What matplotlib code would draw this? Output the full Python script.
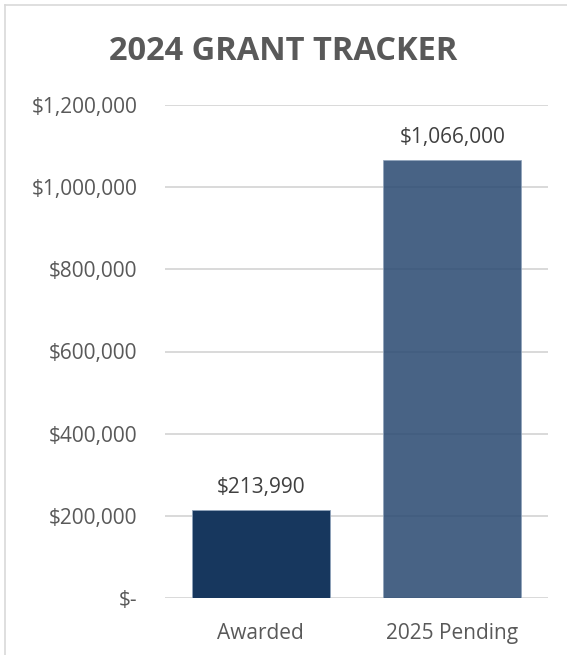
import matplotlib
matplotlib.use("Agg")
import matplotlib.pyplot as plt
from matplotlib.lines import Line2D

# ===================== DATOS =====================
categorias = ["Awarded", "2025 Pending"]
montos = [213990, 1066000]
colores = ["#17375E", "#2E4D74"]
alfas = [1.0, 0.88]
yticks = [0, 200000, 400000, 600000, 800000, 1000000, 1200000]


def fmt_dolar(v):
    return "$-" if v == 0 else f"${v:,.0f}"


plt.rcParams['font.family'] = ['Open Sans', 'DejaVu Sans']

W, H = 567, 655
fig = plt.figure(figsize=(W / 100, H / 100), dpi=100)
fig.patch.set_facecolor("white")

# area del grafico en pixeles: x 165..548, y 105..598
ax = fig.add_axes([165 / W, 1 - 598 / H, (548 - 165) / W, (598 - 105) / H])

x = range(len(categorias))
for i, (v, c, a) in enumerate(zip(montos, colores, alfas)):
    ax.bar(i, v, width=0.72, color=c, alpha=a, zorder=3, edgecolor="#8fa3bb", linewidth=0.6)
    ax.text(i, v + 30000, fmt_dolar(v), ha="center", va="bottom", fontsize=15, color="#404040")

ax.set_xlim(-0.5, 1.5)
ax.set_ylim(0, 1200000)
ax.set_yticks(yticks)
ax.set_yticklabels([fmt_dolar(v) for v in yticks], fontsize=15, color="#595959")
ax.set_xticks(list(x))
ax.set_xticklabels(categorias, fontsize=15, color="#595959")
ax.tick_params(length=0, axis="y", pad=20)
ax.tick_params(length=0, axis="x", pad=18)
ax.grid(axis="y", color="#D9D9D9", linewidth=1.4, zorder=0)
for s in ax.spines.values():
    s.set_visible(False)

fig.text(0.5, 1 - 51 / H, "2024 GRANT TRACKER", ha="center", va="center",
         fontsize=23.5, fontweight="bold", color="#595959")

# marco exterior (borde gris claro arriba e izquierda)
fig.add_artist(Line2D([5 / W, 1], [1 - 5 / H, 1 - 5 / H], color="#D9D9D9", linewidth=1.2))
fig.add_artist(Line2D([5 / W, 5 / W], [0, 1 - 5 / H], color="#D9D9D9", linewidth=1.2))

fig.savefig("out.png", dpi=100, facecolor=fig.get_facecolor())
